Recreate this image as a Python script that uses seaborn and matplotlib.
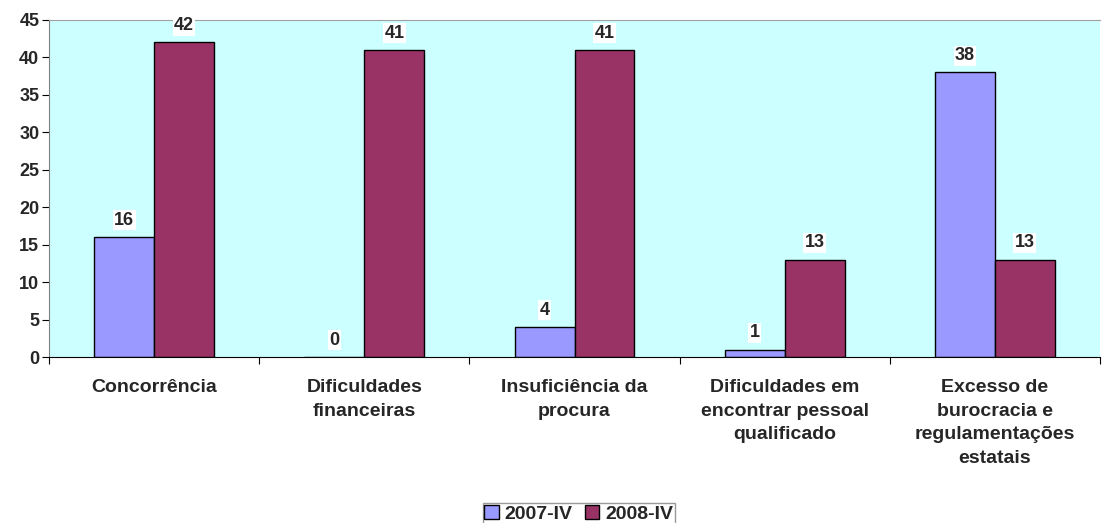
import matplotlib
matplotlib.use("Agg")
import matplotlib.pyplot as plt
import seaborn as sns
import pandas as pd
import numpy as np

categories = ["Concorrência", "Dificuldades\nfinanceiras", "Insuficiência da\nprocura",
              "Dificuldades em\nencontrar pessoal\nqualificado",
              "Excesso de\nburocracia e\nregulamentações\nestatais"]
series = ["2007-IV", "2008-IV"]
v2007 = [16, 0, 4, 1, 38]
v2008 = [42, 41, 41, 13, 13]
yticks = [0, 5, 10, 15, 20, 25, 30, 35, 40, 45]

df = pd.DataFrame({
    "cat": categories * 2,
    "serie": [series[0]] * len(categories) + [series[1]] * len(categories),
    "val": v2007 + v2008,
})

sns.set_style("white")
plt.rcParams["font.family"] = ["Liberation Sans", "DejaVu Sans"]
plt.rcParams["font.weight"] = "bold"

fig = plt.figure(figsize=(11.02, 5.23), dpi=100)
ax = fig.add_axes([49/1102, 166/523, 1051/1102, 337/523])
ax.set_facecolor("#CCFFFF")

sns.barplot(data=df, x="cat", y="val", hue="serie", order=categories,
            hue_order=series, palette=["#9999FF", "#993366"], width=0.57,
            saturation=1, edgecolor="black", linewidth=1, ax=ax, legend=True)

for cont in ax.containers:
    ax.bar_label(cont, padding=6, fontsize=13, fontweight="bold",
                 bbox=dict(facecolor="white", edgecolor="none", pad=1))

ax.set_ylim(0, 45)
ax.set_xlim(-0.5, len(categories) - 0.5)
ax.set_yticks(yticks)
ax.set_yticklabels([str(t) for t in yticks], fontsize=13, fontweight="bold")
ax.set_xticks(np.arange(len(categories) + 1) - 0.5)
ax.set_xticklabels([])
ax.set_xticks(np.arange(len(categories)), minor=True)
ax.set_xticklabels(categories, minor=True, fontsize=14, fontweight="bold", linespacing=1.5)
ax.tick_params(axis="x", which="major", length=5, direction="out", color="black", bottom=True)
ax.tick_params(axis="x", which="minor", length=0, pad=16)
ax.tick_params(axis="y", length=5, direction="out", color="black", left=True, pad=2)
ax.set_xlabel("")
ax.set_ylabel("")

ax.spines["top"].set_color("#A0A0A0")
ax.spines["right"].set_visible(False)
ax.spines["left"].set_color("#808080")
ax.spines["bottom"].set_color("black")

leg = ax.legend(loc="upper center", bbox_to_anchor=(0.504, -146/337), ncol=2,
                frameon=True, fancybox=False, edgecolor="#808080", fontsize=14,
                handlelength=0.75, handleheight=0.75, handletextpad=0.3,
                columnspacing=0.6, borderpad=0.1, borderaxespad=0)
for t in leg.get_texts():
    t.set_fontweight("bold")

fig.savefig("out.png", dpi=100)
